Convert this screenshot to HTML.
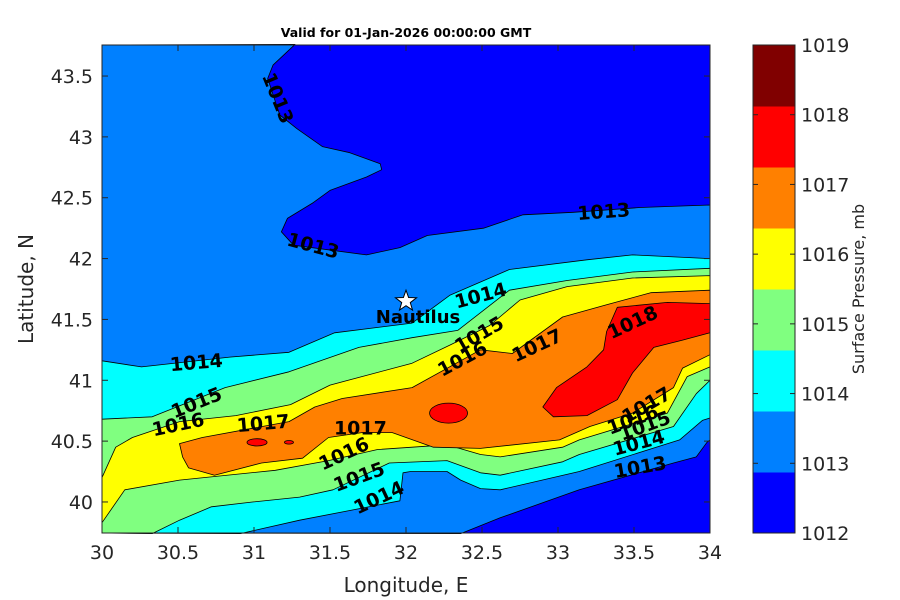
<!DOCTYPE html>
<html><head><meta charset="utf-8"><style>
body{margin:0;background:#fff;}
svg{display:block;font-family:"DejaVu Sans","Liberation Sans",sans-serif;}
</style></head><body>
<svg id="chart" width="900" height="600" viewBox="0 0 900 600" xmlns="http://www.w3.org/2000/svg">
<rect width="900" height="600" fill="#fff"/>
<text x="406" y="37" font-size="12.5" font-weight="bold" text-anchor="middle">Valid for 01-Jan-2026 00:00:00 GMT</text>
<g id="map"></g>
<g id="labels"></g>
<g id="axes"></g>
<text x="406" y="592" font-size="20" text-anchor="middle" fill="#262626">Longitude, E</text>
<text transform="translate(33,289) rotate(-90)" font-size="20" text-anchor="middle" fill="#262626">Latitude, N</text>
<g id="cbar"></g>
<text transform="translate(864,289) rotate(-90)" font-size="16" text-anchor="middle" fill="#262626">Surface Pressure, mb</text>
</svg>
<script>
// ---- data (lon, lat) ----
const levels=[1012,1013,1014,1015,1016,1017,1018,1019];
const xTicks=[30,30.5,31,31.5,32,32.5,33,33.5,34];
const yTicks=[40,40.5,41,41.5,42,42.5,43,43.5];
const c13Upper=[[31.27,43.76],[31.125,43.59],[31.09,43.48],[31.17,43.18],[31.28,43.07],[31.45,42.92],[31.63,42.87],[31.83,42.78],[31.84,42.73],[31.74,42.67],[31.50,42.56],[31.39,42.46],[31.22,42.33],[31.18,42.22],[31.26,42.11],[31.74,42.03],[31.96,42.09],[32.14,42.19],[32.51,42.25],[32.77,42.36],[33.10,42.38],[33.54,42.42],[34.0,42.44]];
const c13Lower=[[32.36,39.74],[32.62,39.87],[33.14,40.10],[33.76,40.32],[33.91,40.37],[33.98,40.49],[34.0,40.51]];
const c14Upper=[[30,41.16],[30.26,41.11],[30.84,41.19],[31.23,41.23],[31.53,41.39],[32.04,41.47],[32.16,41.58],[32.29,41.70],[32.68,41.91],[33.19,41.99],[33.49,42.03],[34,42.0]];
const c14Lower=[[30.91,39.74],[31.30,39.85],[31.63,39.93],[31.96,40.01],[31.98,40.24],[32.03,40.25],[32.27,40.25],[32.36,40.18],[32.49,40.11],[32.62,40.10],[33.14,40.25],[33.80,40.51],[33.95,40.67],[34.0,40.69]];
const c15Upper=[[30,40.68],[30.33,40.70],[30.81,40.94],[31.23,41.07],[31.69,41.27],[32.04,41.35],[32.34,41.41],[32.68,41.74],[33.06,41.82],[33.49,41.89],[34,41.92]];
const c15Lower=[[30.33,39.74],[30.51,39.85],[30.72,39.96],[30.99,40.0],[31.30,40.04],[31.52,40.10],[31.89,40.32],[32.27,40.34],[32.49,40.24],[32.62,40.22],[33.03,40.33],[33.14,40.39],[33.76,40.62],[33.91,40.89],[34,41.0]];
const c16Upper=[[30,40.20],[30.09,40.45],[30.20,40.53],[30.51,40.66],[30.88,40.71],[31.24,40.80],[31.50,40.96],[32.04,41.14],[32.29,41.29],[32.55,41.45],[32.75,41.66],[33.06,41.77],[33.49,41.84],[34,41.86]];
const c16Lower=[[30,39.83],[30.15,40.10],[30.51,40.18],[31.14,40.26],[31.49,40.34],[31.81,40.43],[32.27,40.47],[32.49,40.39],[32.62,40.37],[33.03,40.45],[33.14,40.51],[33.72,40.73],[33.85,41.03],[34,41.11]];
const c17Upper=[[30.51,40.48],[30.66,40.53],[31.23,40.66],[31.40,40.78],[31.58,40.85],[32.04,40.94],[32.49,41.25],[32.70,41.22],[33.03,41.52],[33.32,41.62],[33.61,41.72],[34,41.74]];
const c17Lower=[[30.53,40.37],[30.57,40.28],[30.74,40.22],[31.05,40.32],[31.32,40.36],[31.49,40.53],[31.71,40.57],[31.91,40.57],[32.18,40.45],[32.49,40.44],[33.01,40.51],[33.21,40.62],[33.49,40.73],[33.76,40.94],[33.82,41.10],[34,41.21]];
const c18Ring=[[33.32,41.40],[33.39,41.60],[33.72,41.64],[34,41.63],[34,41.39],[33.82,41.33],[33.63,41.27],[33.49,41.06],[33.39,40.84],[33.19,40.71],[32.97,40.70],[32.90,40.78],[32.99,40.94],[33.19,41.11],[33.30,41.25]];
const c18Blobs=[[32.28,40.73,0.125,0.082],[31.02,40.49,0.066,0.03],[31.23,40.49,0.03,0.015]];
const clabelText=["1013","1013","1013","1014","1014","1015","1015","1016","1016","1017","1017","1017","1018","1016","1015","1014","1017","1016","1015","1014","1013"];
const clabelLon=[31.16,31.39,33.30,30.62,32.49,30.62,32.48,30.50,32.37,31.06,31.70,32.86,33.49,31.59,31.69,31.82,33.58,33.49,33.57,33.53,33.54];
const clabelLat=[43.32,42.11,42.39,41.15,41.70,40.82,41.38,40.64,41.18,40.65,40.61,41.29,41.48,40.40,40.21,40.04,40.80,40.68,40.63,40.49,40.29];
const clabelRot=[68,15,-4,-5,-15,-22,-30,-12,-28,-5,0,-25,-25,-25,-20,-25,-30,-20,-20,-15,-10];
const siteLon=32.0, siteLat=41.65, siteName="Nautilus";
// ---- scales ----
const X0=102,X1=710,Y0=45,Y1=533;
const lonMin=30,lonMax=34,latMin=39.745,latMax=43.755;
const sx=v=>X0+(v-lonMin)/(lonMax-lonMin)*(X1-X0);
const sy=v=>Y1-(v-latMin)/(latMax-latMin)*(Y1-Y0);
const cols=["#0000ff","#0080ff","#00ffff","#80ff80","#ffff00","#ff8000","#ff0000","#800000"];
const NS="http://www.w3.org/2000/svg";
function mk(tag,attrs,parent){const e=document.createElementNS(NS,tag);for(const k in attrs)e.setAttribute(k,attrs[k]);parent.appendChild(e);return e;}
const P=a=>a.map(p=>sx(p[0]).toFixed(1)+","+sy(p[1]).toFixed(1));
const map=document.getElementById('map');
function poly(pts,fill,name){const e=mk('polygon',{points:pts.join(' '),fill:fill,stroke:'#000','stroke-width':0.8,'stroke-linejoin':'round'},map);

}
const bg=mk('rect',{x:X0,y:Y0,width:X1-X0,height:Y1-Y0,fill:cols[0]},map);


const TL=[lonMin,latMax],BL=[lonMin,latMin];
poly([...P([TL]),...P(c13Upper),...P(c13Lower.slice().reverse()),...P([BL])],cols[1],'region-1013');
poly([...P(c14Upper),...P(c14Lower.slice().reverse()),...P([BL])],cols[2],'region-1014');
poly([...P(c15Upper),...P(c15Lower.slice().reverse()),...P([BL])],cols[3],'region-1015');
poly([...P(c16Upper),...P(c16Lower.slice().reverse())],cols[4],'region-1016');
poly([...P(c17Upper),...P(c17Lower.slice().reverse())],cols[5],'region-1017');
poly(P(c18Ring),cols[6],'region-1018');
c18Blobs.forEach(b=>{const e=mk('ellipse',{cx:sx(b[0]),cy:sy(b[1]),rx:sx(b[0]+b[2])-sx(b[0]),ry:sy(b[1])-sy(b[1]+b[3]),fill:cols[6],stroke:'#000','stroke-width':0.8},map);

});
// contour labels
const lg=document.getElementById('labels');
clabelText.forEach((t,i)=>{const x=sx(clabelLon[i]),y=sy(clabelLat[i]);
const e=mk('text',{x:x,y:y+7,'font-size':19,'font-weight':'bold','text-anchor':'middle',transform:`rotate(${clabelRot[i]} ${x} ${y})`},lg);
e.textContent=t;

});
// site
const stx=sx(siteLon),sty=sy(siteLat);let sp=[];
for(let k=0;k<10;k++){const r=k%2?4.5:11,a=-Math.PI/2+k*Math.PI/5;sp.push((stx+r*Math.cos(a)).toFixed(1)+','+(sty+r*Math.sin(a)).toFixed(1));}
const star=mk('polygon',{points:sp.join(' '),fill:'#fff',stroke:'#000','stroke-width':1},lg);


const st=mk('text',{x:stx+12,y:sty+22,'font-size':18,'font-weight':'bold','text-anchor':'middle'},lg);
st.textContent=siteName;


// axes
const ax=document.getElementById('axes');
const box=mk('rect',{x:X0,y:Y0,width:X1-X0,height:Y1-Y0,fill:'none',stroke:'#262626','stroke-width':1},ax);


xTicks.forEach(v=>{const x=sx(v);
mk('line',{x1:x,y1:Y1,x2:x,y2:Y1-6,stroke:'#262626'},ax);mk('line',{x1:x,y1:Y0,x2:x,y2:Y0+6,stroke:'#262626'},ax);
const t=mk('text',{x:x,y:Y1+26,'font-size':19,'text-anchor':'middle',fill:'#262626'},ax);t.textContent=String(v);

});
yTicks.forEach(v=>{const y=sy(v);
mk('line',{x1:X0,y1:y,x2:X0+6,y2:y,stroke:'#262626'},ax);mk('line',{x1:X1,y1:y,x2:X1-6,y2:y,stroke:'#262626'},ax);
const t=mk('text',{x:X0-9,y:y+7,'font-size':19,'text-anchor':'end',fill:'#262626'},ax);t.textContent=String(v);

});
// colorbar
const cb=document.getElementById('cbar');const CX=753,CW=42;
cols.forEach((c,i)=>{const h=(Y1-Y0)/cols.length;const r=mk('rect',{x:CX,y:Y1-(i+1)*h,width:CW,height:h+0.5,fill:c},cb);

});
const cbf=mk('rect',{x:CX,y:Y0,width:CW,height:Y1-Y0,fill:'none',stroke:'#262626'},cb);


levels.forEach((v,i)=>{const y=Y1-i*(Y1-Y0)/(levels.length-1);
mk('line',{x1:CX,y1:y,x2:CX+5,y2:y,stroke:'#262626'},cb);mk('line',{x1:CX+CW,y1:y,x2:CX+CW-5,y2:y,stroke:'#262626'},cb);
const t=mk('text',{x:CX+CW+6,y:y+7,'font-size':19,fill:'#262626'},cb);t.textContent=String(v);

});
</script>
</body></html>
